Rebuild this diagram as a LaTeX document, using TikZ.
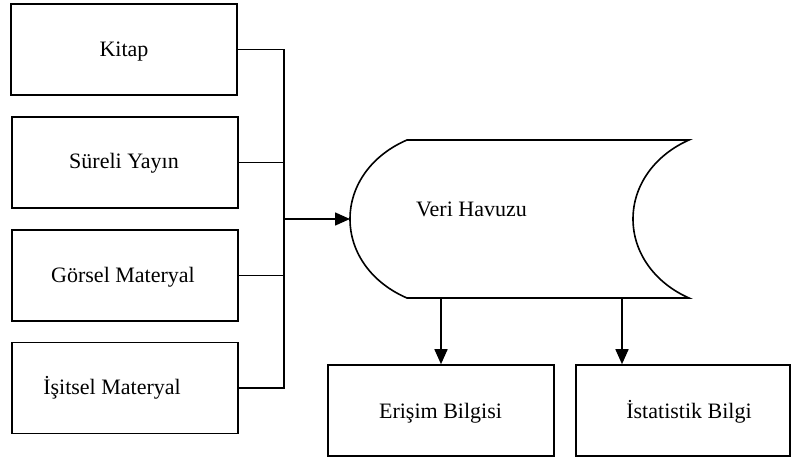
\documentclass[tikz,border=0pt]{standalone}
\usepackage{fontspec}
\setmainfont{Liberation Serif}
\usetikzlibrary{arrows.meta}
\begin{document}
\begin{tikzpicture}[x=1pt,y=-1pt,
  box/.style={draw, line width=1.6pt, minimum width=226pt, minimum height=91pt, inner sep=0pt},
  lbl/.style={font=\fontsize{22}{26}\selectfont, anchor=base, inner sep=0pt},
  wire/.style={line width=1.6pt},
  arr/.style={line width=1.6pt, -{Triangle[length=15pt,width=13pt]}}]
\useasboundingbox (0,0) rectangle (792,457);
% source boxes
\node[box] (kitap) at (124,49.5) {};
\node[box] (sureli) at (125,162.5) {};
\node[box] (gorsel) at (125,275.5) {};
\node[box] (isitsel) at (125,388) {};
\node[lbl] (tkitap) at (124,57) {Kitap};
\node[lbl] (tsureli) at (124,169) {Süreli Yayın};
\node[lbl] (tgorsel) at (123,282) {Görsel Materyal};
\node[lbl] (tisitsel) at (112,394) {İşitsel Materyal};
% bus
\coordinate (bus) at (284,219);
\draw[wire] (kitap.east) -| (bus);
\draw[wire] (sureli.east) -| (bus);
\draw[wire] (gorsel.east) -| (bus);
\draw[wire] (isitsel.east) -| (bus);
% data pool (stored data shape)
\draw[wire] (407,140) -- (689,140)
  .. controls (655,155) and (633,185) .. (633,219)
  .. controls (633,253) and (655,283) .. (689,298)
  -- (407,298)
  .. controls (372,283) and (350,253) .. (350,219)
  .. controls (350,185) and (372,155) .. (407,140) -- cycle;
\coordinate (poolW) at (350,219);
\coordinate (poolS1) at (441,298);
\coordinate (poolS2) at (622,298);
\node[lbl] (pool) at (471.5,216) {Veri Havuzu};
\draw[arr] (bus) -- (poolW);
% output boxes
\node[box] (eris) at (441,410.5) {};
\node[box, minimum width=214pt] (ista) at (683,410.5) {};
\node[lbl] (teris) at (440.5,418) {Erişim Bilgisi};
\node[lbl] (tista) at (689,418) {İstatistik Bilgi};
\draw[arr] (poolS1) -- (eris.north);
\draw[arr] (poolS2) -- (poolS2 |- ista.north);
\end{tikzpicture}
\end{document}
